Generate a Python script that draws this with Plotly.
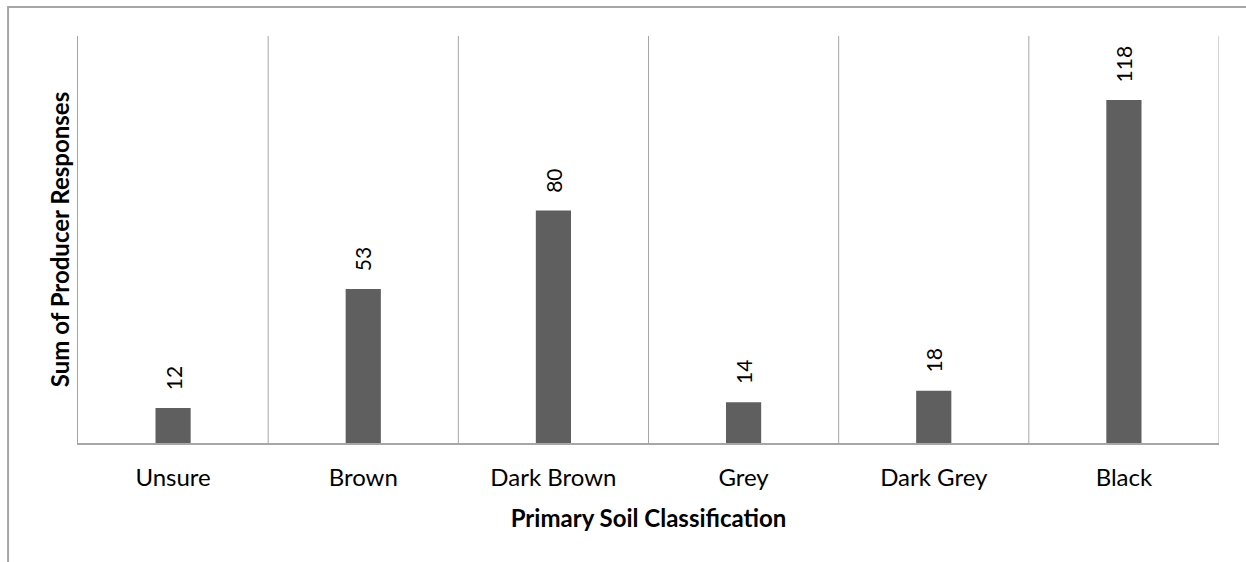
import plotly.graph_objects as go

categories = ["Unsure", "Brown", "Dark Brown", "Grey", "Dark Grey", "Black"]
responses = [12, 53, 80, 14, 18, 118]

FONT = "Lato, 'Open Sans', sans-serif"
GRID = "#a6a6a6"

fig = go.Figure(
    go.Bar(
        x=categories,
        y=responses,
        width=0.185,
        marker=dict(color="#5f5f5f", line=dict(width=0)),
        hoverinfo="skip",
    )
)

# value labels above each bar, rotated
for cat, val in zip(categories, responses):
    fig.add_annotation(
        x=cat, y=val, text=str(val), showarrow=False,
        textangle=-90, yanchor="bottom", yshift=16,
        font=dict(family=FONT, size=21, color="#000000"),
    )

# vertical separators between categories
n = len(categories)
for i in range(1, n + 1):
    fig.add_shape(
        type="line", xref="x", yref="paper",
        x0=i - 0.5, x1=i - 0.5, y0=0, y1=1,
        line=dict(color=GRID, width=1),
    )

# outer chart frame
fig.add_shape(
    type="rect", xref="paper", yref="paper",
    x0=-0.0613, x1=1.2, y0=-0.6, y1=1.0713,
    line=dict(color="#a6a6a6", width=2), fillcolor="rgba(0,0,0,0)",
    layer="below",
)

fig.update_layout(
    width=1246, height=562,
    margin=dict(l=78, r=27, t=36, b=119),
    paper_bgcolor="white", plot_bgcolor="white",
    showlegend=False,
    font=dict(family=FONT, size=24, color="#000000"),
    xaxis=dict(
        range=[-0.5, n - 0.5],
        showgrid=False, showline=True, linecolor=GRID, linewidth=2,
        ticks="", tickfont=dict(family=FONT, size=24),
        ticklabelstandoff=12,
        title=dict(text="<b>Primary Soil Classification</b>",
                   font=dict(family=FONT, size=24), standoff=20),
        zeroline=False,
    ),
    yaxis=dict(
        range=[0, 140],
        showgrid=False, showticklabels=False, ticks="",
        showline=True, linecolor=GRID, linewidth=1,
        zeroline=False,
        title=dict(text="<b>Sum of Producer Responses</b>",
                   font=dict(family=FONT, size=24), standoff=0),
    ),
)

fig.write_html("out.html")
